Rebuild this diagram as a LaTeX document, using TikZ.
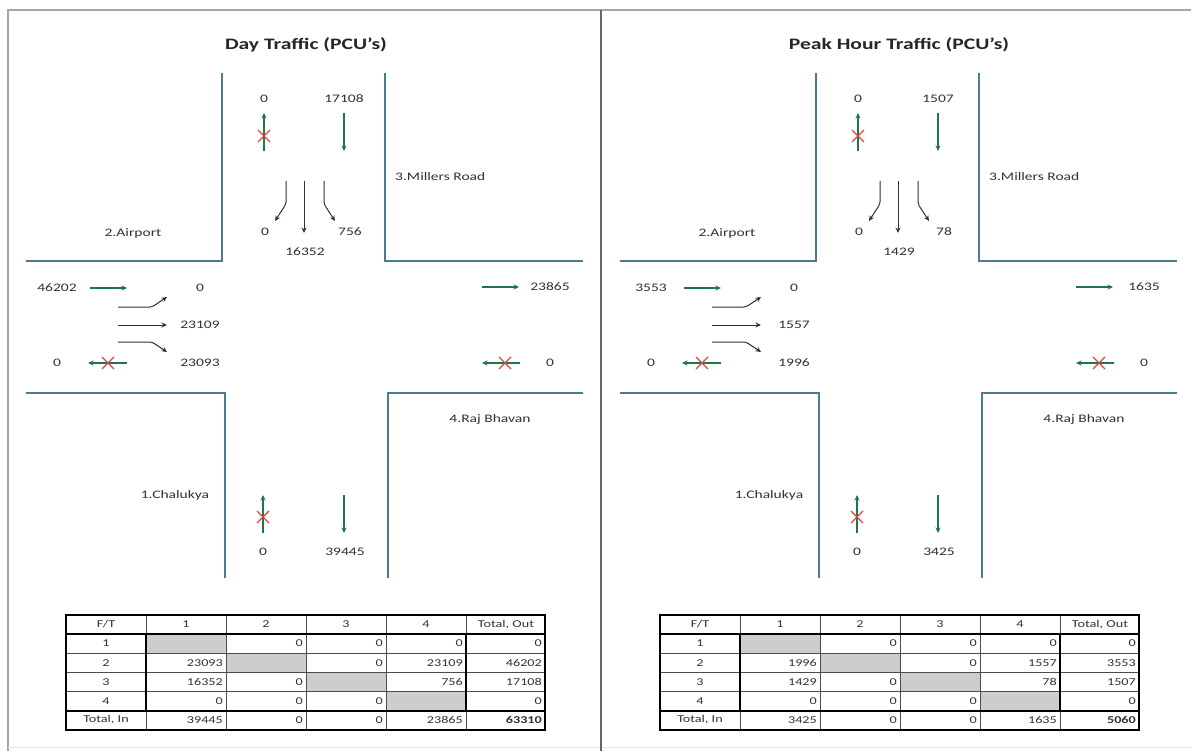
\documentclass[tikz,border=0pt]{standalone}
\usepackage{fontspec}
\setmainfont{Carlito}[FakeStretch=1.35]
\usetikzlibrary{arrows.meta,positioning}

\definecolor{roadblue}{RGB}{74,124,140}
\definecolor{flowgreen}{RGB}{35,115,75}
\definecolor{stopred}{RGB}{215,70,70}
\definecolor{inkgray}{RGB}{50,50,50}
\definecolor{cellgray}{RGB}{205,205,205}

\tikzset{
  road/.style={roadblue, line width=1.3pt},
  flow/.style={flowgreen, line width=1.3pt, -{Stealth[length=5.5pt,width=5pt]}},
  turn/.style={inkgray, line width=1pt, -{Stealth[length=5.5pt,width=5pt]}},
  val/.style={text=inkgray, font=\fontsize{11.5}{13}\selectfont, inner sep=1pt},
  place/.style={val},
  heading/.style={text=black!85, font=\fontsize{16}{19}\selectfont\bfseries},
  cell/.style={text=inkgray, font=\fontsize{10.5}{12}\selectfont, inner sep=2pt},
  thin grid/.style={gray!60!black, line width=0.7pt},
  thick grid/.style={black, line width=1.6pt},
  nogo/.pic={\draw[stopred, line width=1.1pt] (-6,-6) -- (6,6) (-6,6) -- (6,-6);}
}

% one junction: flows 2-1, 2-4, out 2, 3-1, 3-4, out 3, in 1, in 4, total
\newcommand{\junctionpanel}[9]{%
  % road edges
  \draw[road] (222,73) -- (222,261) -- (26,261);
  \draw[road] (385,73) -- (385,261) -- (583,261);
  \draw[road] (26,393) -- (225,393) -- (225,578);
  \draw[road] (583,393) -- (388,393) -- (388,578);
  % road names
  \node[place] (r2) at (133,233) {2.Airport};
  \node[place, anchor=west] (r3) at (394,177) {3.Millers Road};
  \node[place] (r4) at (490,419) {4.Raj Bhavan};
  \node[place] (r1) at (175,495) {1.Chalukya};
  % arm 3 (top)
  \node[val] (in3) at (264,99) {0};
  \node[val] (out3) at (344,99) {#6};
  \draw[flow] (264,151) -- (264,113);
  \pic at (264,136) {nogo};
  \draw[flow] (344,113) -- (344,151);
  \draw[turn, rounded corners=2pt] (286,181) -- (286,204) -- (275,221);
  \draw[turn] (304,181) -- (304,233);
  \draw[turn, rounded corners=2pt] (324,181) -- (324,204) -- (335,221);
  \node[val] (t32) at (265,232) {0};
  \node[val] (t31) at (305,252) {#4};
  \node[val] (t34) at (350,232) {#5};
  % arm 2 (left)
  \node[val] (out2) at (57,288) {#3};
  \draw[flow] (90,288) -- (127,288);
  \draw[turn, rounded corners=2pt] (118,307) -- (152,307) -- (167,297);
  \draw[turn] (118,325) -- (167,325);
  \draw[turn, rounded corners=2pt] (118,342) -- (152,342) -- (167,352);
  \node[val] (t23) at (200,288) {0};
  \node[val] (t24) at (200,325) {#2};
  \node[val] (t21) at (200,363) {#1};
  \node[val] (in2) at (57,363) {0};
  \draw[flow] (127,363) -- (88,363);
  \pic at (108,363) {nogo};
  % arm 4 (right)
  \draw[flow] (482,287) -- (519,287);
  \node[val] (in4) at (550,287) {#8};
  \draw[flow] (520,363) -- (482,363);
  \pic at (505,363) {nogo};
  \node[val] (out4) at (550,363) {0};
  % arm 1 (bottom)
  \draw[flow] (263,533) -- (263,495);
  \pic at (263,517) {nogo};
  \node[val] (out1) at (263,552) {0};
  \draw[flow] (344,495) -- (344,533);
  \node[val] (in1) at (345,552) {#7};
  % from/to table
  \foreach \xa/\xb/\ya/\yb in {146/226/634/653, 226/306/653/672, 306/386/672/691, 386/466/691/711}
    \fill[cellgray] (\xa,\ya) rectangle (\xb,\yb);
  \foreach \x in {146,226,306,386,466}
    \draw[thin grid] (\x,615) -- (\x,730);
  \foreach \y in {634,653,672,691,711}
    \draw[thin grid] (66,\y) -- (545,\y);
  \draw[thick grid] (66,615) rectangle (545,730);
  \draw[thick grid] (146,634) rectangle (466,711);
  \draw[thick grid] (66,634) -- (545,634) (66,711) -- (545,711);
  \foreach \t [count=\c from 0] in {F/T,1,2,3,4,{Total, Out}}
    \node[cell] (h\c) at ({106+80*\c},624.5) {\t};
  \foreach \lab/\a/\b/\cc/\d/\e [count=\r] in {1/{}/0/0/0/0, 2/#1/{}/0/#2/#3,
      3/#4/0/{}/#5/#6, 4/0/0/0/{}/0, {Total, In}/#7/0/0/#8/{\textbf{#9}}}{
    \node[cell] (l\r) at (106,{624.5+19.1*\r}) {\lab};
    \node[cell, anchor=east] (a\r) at (225,{624.5+19.1*\r}) {\a};
    \node[cell, anchor=east] (b\r) at (305,{624.5+19.1*\r}) {\b};
    \node[cell, anchor=east] (c\r) at (385,{624.5+19.1*\r}) {\cc};
    \node[cell, anchor=east] (d\r) at (465,{624.5+19.1*\r}) {\d};
    \node[cell, anchor=east] (e\r) at (544,{624.5+19.1*\r}) {\e};
  }
}

\begin{document}
\begin{tikzpicture}[x=1pt, y=-1pt]
  \useasboundingbox (0,0) rectangle (1191,751);
  \fill[white] (0,0) rectangle (1191,751);
  % sheet frame
  \draw[gray!70, line width=2.5pt] (8,751) -- (8,10) -- (1191,10);
  \draw[gray!20, line width=1pt] (8,747) -- (1191,747);
  \draw[gray!80!black, line width=1.5pt] (601,10) -- (601,751);

  % titles
  \node[heading] (daytitle) at (306,45) {Day Traffic (PCU's)};
  \node[heading] (peaktitle) at (899,45) {Peak Hour Traffic (PCU's)};

  % day traffic
  \junctionpanel{23093}{23109}{46202}{16352}{756}{17108}{39445}{23865}{63310}

  % peak hour traffic
  \begin{scope}[xshift=594pt, name prefix=p]
    \junctionpanel{1996}{1557}{3553}{1429}{78}{1507}{3425}{1635}{5060}
  \end{scope}
\end{tikzpicture}
\end{document}
